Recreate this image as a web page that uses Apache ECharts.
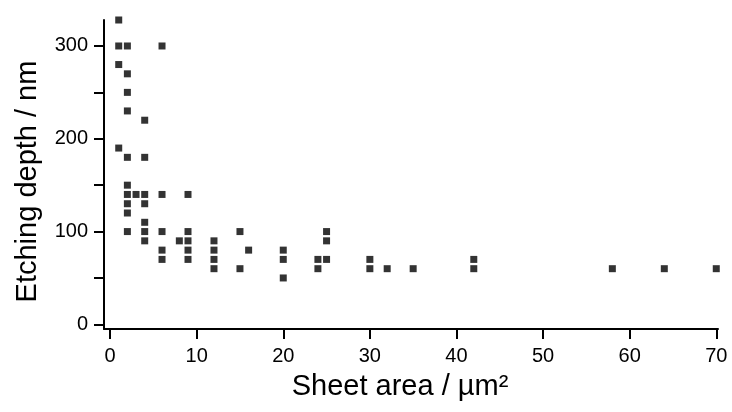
<!DOCTYPE html>
<html>
<head>
<meta charset="utf-8">
<script src="https://cdn.jsdelivr.net/npm/echarts@6/dist/echarts.min.js"></script>
<style>
  html, body { margin: 0; padding: 0; background: #fff; }
  #chart { width: 732px; height: 412px; }
</style>
</head>
<body>
<div id="chart"></div>
<script>
// Sheet area (µm²) and etching depth (nm) of each measured sheet
const sheetArea = [
  1, 1, 1, 1,
  2, 2, 2, 2, 2, 2, 2, 2, 2, 2,
  3,
  4, 4, 4, 4, 4, 4, 4,
  6, 6, 6, 6, 6,
  8,
  9, 9, 9, 9, 9,
  12, 12, 12, 12,
  15, 15,
  16,
  20, 20, 20,
  24, 24,
  25, 25, 25,
  30, 30,
  32,
  35,
  42, 42,
  58,
  64,
  70
];
const etchDepth = [
  328, 300, 280, 190,
  300, 270, 250, 230, 180, 150, 140, 130, 120, 100,
  140,
  220, 180, 140, 130, 110, 100, 90,
  300, 140, 100, 80, 70,
  90,
  140, 100, 90, 80, 70,
  90, 80, 70, 60,
  100, 60,
  80,
  80, 70, 50,
  70, 60,
  100, 90, 70,
  70, 60,
  60,
  60,
  70, 60,
  60,
  60,
  60
];

// Tick positions
const xTicks = [0, 10, 20, 30, 40, 50, 60, 70];
const yTicks = [0, 50, 100, 150, 200, 250, 300];
const yLabels = [0, 100, 200, 300];

const points = sheetArea.map((a, i) => [a, etchDepth[i]]);

const font = '"Liberation Sans", Arial, Helvetica, sans-serif';
const axisLine = { show: true, onZero: false, lineStyle: { color: '#000', width: 2 } };

const chart = echarts.init(document.getElementById('chart'), null, { renderer: 'canvas' });
chart.setOption({
  animation: false,
  backgroundColor: '#fff',
  grid: { left: 104, right: 14, top: 20, bottom: 83, containLabel: false },
  xAxis: {
    type: 'value',
    min: -0.7,
    max: 70.2,
    name: 'Sheet area / µm²',
    nameLocation: 'middle',
    nameGap: 43,
    nameTextStyle: { fontFamily: font, fontSize: 29, color: '#000', padding: [0, 22, 0, 0] },
    axisLine: axisLine,
    axisTick: { show: true, customValues: xTicks, length: 10, lineStyle: { color: '#000', width: 2 } },
    axisLabel: { customValues: xTicks, fontFamily: font, fontSize: 20, color: '#000', margin: 17 },
    splitLine: { show: false }
  },
  yAxis: {
    type: 'value',
    min: -5,
    max: 328,
    name: 'Etching depth / nm',
    nameLocation: 'middle',
    nameGap: 62,
    nameTextStyle: { fontFamily: font, fontSize: 29, color: '#000', padding: [0, 14, 0, 0] },
    axisLine: axisLine,
    axisTick: { show: true, customValues: yTicks, length: 10, lineStyle: { color: '#000', width: 2 } },
    axisLabel: { customValues: yLabels, fontFamily: font, fontSize: 20, color: '#000', margin: 16 },
    splitLine: { show: false }
  },
  series: [{
    type: 'scatter',
    data: points,
    symbol: 'rect',
    symbolSize: 7,
    itemStyle: { color: '#000' }
  }]
});
</script>
</body>
</html>
